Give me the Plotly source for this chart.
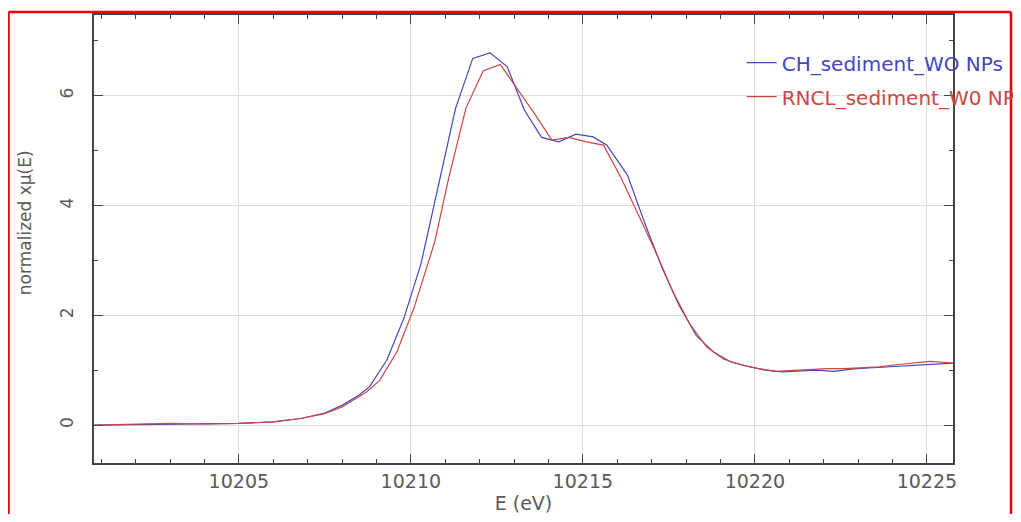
import plotly.graph_objects as go

# ---- data ----
e_ch = [10200.8, 10202.0, 10203.0, 10204.0, 10205.0, 10206.0, 10206.8, 10207.5, 10208.0,
        10208.5, 10208.8, 10209.3, 10209.8, 10210.3, 10210.8, 10211.3, 10211.8, 10212.3,
        10212.8, 10213.3, 10213.8, 10214.3, 10214.8, 10215.3, 10215.7, 10216.3, 10216.8,
        10217.3, 10217.8, 10218.3, 10218.8, 10219.3, 10219.8, 10220.3, 10220.8, 10221.3,
        10221.8, 10222.3, 10222.8, 10223.3, 10223.8, 10224.3, 10224.8, 10225.3, 10225.8]
mu_ch = [0.00, 0.01, 0.02, 0.02, 0.03, 0.06, 0.12, 0.22, 0.36,
         0.55, 0.70, 1.18, 1.95, 2.95, 4.35, 5.77, 6.68, 6.78,
         6.53, 5.74, 5.24, 5.16, 5.30, 5.25, 5.10, 4.55, 3.68,
         2.87, 2.18, 1.63, 1.33, 1.15, 1.07, 1.00, 0.97, 0.99,
         1.00, 0.98, 1.02, 1.04, 1.06, 1.08, 1.10, 1.12, 1.13]

e_rncl = [10200.8, 10202.0, 10203.0, 10204.0, 10205.0, 10206.0, 10206.8, 10207.5, 10208.0,
          10208.7, 10209.1, 10209.6, 10210.1, 10210.7, 10211.1, 10211.6, 10212.1, 10212.6,
          10213.1, 10213.6, 10214.1, 10214.6, 10215.1, 10215.6, 10216.1, 10216.6, 10217.1,
          10217.6, 10218.1, 10218.6, 10219.1, 10219.6, 10220.1, 10220.6, 10221.1, 10221.6,
          10222.1, 10222.6, 10223.1, 10223.6, 10224.1, 10224.6, 10225.1, 10225.8]
mu_rncl = [0.00, 0.01, 0.03, 0.02, 0.03, 0.06, 0.12, 0.21, 0.33,
           0.60, 0.82, 1.34, 2.15, 3.35, 4.50, 5.77, 6.45, 6.57,
           6.13, 5.67, 5.19, 5.24, 5.16, 5.10, 4.52, 3.85, 3.18,
           2.45, 1.85, 1.42, 1.20, 1.10, 1.03, 0.98, 1.00, 1.02,
           1.03, 1.03, 1.05, 1.06, 1.10, 1.13, 1.16, 1.13]

names = ["CH_sediment_WO NPs", "RNCL_sediment_W0 NPs"]
colors = ["#4646b9", "#cc4646"]

x_ticks = [10205, 10210, 10215, 10220, 10225]
y_ticks = [0, 2, 4, 6]

FONT = "DejaVu Sans"
GREY = "#5a5a5a"

fig = go.Figure()
for i, (xs, ys) in enumerate([(e_ch, mu_ch), (e_rncl, mu_rncl)]):
    fig.add_trace(go.Scatter(
        x=xs, y=ys, mode="lines",
        line=dict(color=colors[i], width=1.2),
        name=f"<span style='color:{colors[i]}'>{names[i]}</span>",
        legendgroup=f"g{i}",
    ))

axis_common = dict(
    showline=True, linecolor="#444", linewidth=1.5, mirror="allticks",
    ticks="inside", ticklen=9, tickcolor="#444", tickwidth=1.2,
    showgrid=True, gridcolor="#dddddd", gridwidth=1,
    zeroline=False,
    minor=dict(dtick=1, ticks="inside", ticklen=4, tickcolor="#444", showgrid=False),
)

fig.update_xaxes(
    **axis_common,
    range=[10200.79, 10225.76],
    tickvals=x_ticks, ticktext=[str(v) for v in x_ticks],
    tickfont=dict(family=FONT, size=19, color=GREY),
    ticklabelstandoff=0,
    title=dict(text="E (eV)", font=dict(family=FONT, size=19, color=GREY), standoff=14),
)
fig.update_yaxes(
    **axis_common,
    range=[-0.69, 7.47],
    tickvals=y_ticks, ticktext=[str(v) for v in y_ticks],
    tickfont=dict(family=FONT, size=17, color=GREY),
    tickangle=-90,
    ticklabelstandoff=12,
)

# page has an 8px body margin: plot area should land at x 94..953, y 15..463 on the page
border = dict(color="#ee0000", width=2.5)
fig.update_layout(
    width=1005, height=506,
    margin=dict(l=86, r=60, t=7, b=51, autoexpand=False),
    paper_bgcolor="white", plot_bgcolor="white",
    showlegend=True,
    legend=dict(
        x=0.754, y=0.937, xanchor="left", yanchor="top",
        bgcolor="rgba(0,0,0,0)", borderwidth=0,
        font=dict(family=FONT, size=20, color=GREY),
        traceorder="grouped", tracegroupgap=5,
    ),
    annotations=[dict(
        text="normalized xμ(E)", textangle=-90, showarrow=False,
        xref="paper", yref="paper", x=-0.080, y=0.536,
        xanchor="center", yanchor="middle",
        font=dict(family=FONT, size=17, color=GREY),
    )],
    shapes=[
        dict(type="line", xref="paper", yref="paper", x0=-0.0995, x1=-0.0995,
             y0=1.0067, y1=-0.15, line=border, layer="above"),
        dict(type="line", xref="paper", yref="paper", x0=-0.0995, x1=1.0675,
             y0=1.0067, y1=1.0067, line=border, layer="above"),
        dict(type="line", xref="paper", yref="paper", x0=1.0675, x1=1.0675,
             y0=1.0067, y1=-0.15, line=border, layer="above"),
    ],
)

fig.write_html("out.html")
